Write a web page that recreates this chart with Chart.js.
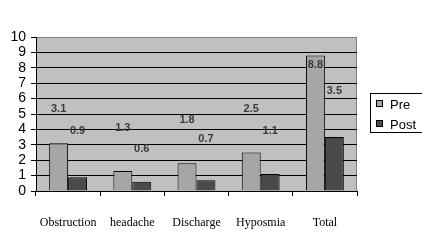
<!DOCTYPE html>
<html>
<head>
<meta charset="utf-8">
<script src="https://cdn.jsdelivr.net/npm/chart.js@4.4.1/dist/chart.umd.min.js"></script>
<style>
  html, body { margin: 0; padding: 0; background: #fff; }
  #wrap { width: 422px; height: 240px; }
</style>
</head>
<body>
<div id="wrap"><canvas id="chart" width="422" height="240"></canvas></div>
<script>
const categories = ['Obstruction', 'headache', 'Discharge', 'Hyposmia', 'Total'];
const preValues = [3.1, 1.3, 1.8, 2.5, 8.8];
const postValues = [0.9, 0.6, 0.7, 1.1, 3.5];
const yTicks = [0, 1, 2, 3, 4, 5, 6, 7, 8, 9, 10];

// where the value labels float (in axis units), as in the original
const preLabelAt = [5.3, 4.1, 4.6, 5.3, 8.2];
const postLabelAt = [3.9, 2.7, 3.4, 3.9, 6.5];

const plotBg = {
  id: 'plotBg',
  beforeDraw(chart) {
    const { ctx, chartArea: a } = chart;
    ctx.save();
    ctx.fillStyle = '#c0c0c0';
    ctx.fillRect(a.left, a.top, a.right - a.left, a.bottom - a.top);
    ctx.strokeStyle = '#808080';
    ctx.lineWidth = 1;
    ctx.beginPath();
    ctx.moveTo(a.left, a.top + 0.5);
    ctx.lineTo(a.right - 0.5, a.top + 0.5);
    ctx.lineTo(a.right - 0.5, a.bottom);
    ctx.stroke();
    ctx.restore();
  }
};

const valueLabels = {
  id: 'valueLabels',
  afterDatasetsDraw(chart) {
    const { ctx } = chart;
    const y = chart.scales.y;
    const levels = [preLabelAt, postLabelAt];
    ctx.save();
    ctx.font = 'bold 11px "Liberation Sans", Arial, sans-serif';
    ctx.fillStyle = '#3a3a3a';
    ctx.textAlign = 'center';
    ctx.textBaseline = 'middle';
    chart.data.datasets.forEach((ds, i) => {
      chart.getDatasetMeta(i).data.forEach((bar, j) => {
        ctx.fillText(ds.data[j].toFixed(1), bar.x, y.getPixelForValue(levels[i][j]));
      });
    });
    ctx.restore();
  }
};

const boxLegend = {
  id: 'boxLegend',
  afterDraw(chart) {
    const { ctx } = chart;
    ctx.save();
    ctx.fillStyle = '#fff';
    ctx.fillRect(370.5, 93.5, 60, 39);
    ctx.strokeStyle = '#000';
    ctx.lineWidth = 1;
    ctx.strokeRect(370.5, 93.5, 60, 39);
    ctx.font = '13px "Liberation Sans", Arial, sans-serif';
    ctx.textBaseline = 'middle';
    chart.data.datasets.forEach((ds, i) => {
      const cy = 104 + i * 20;
      ctx.fillStyle = ds.backgroundColor;
      ctx.fillRect(376.5, cy - 3.5, 6, 6);
      ctx.strokeStyle = '#000';
      ctx.strokeRect(376.5, cy - 3.5, 6, 6);
      ctx.fillStyle = '#000';
      ctx.fillText(ds.label, 390, cy + 1);
    });
    ctx.restore();
  }
};

new Chart(document.getElementById('chart'), {
  type: 'bar',
  data: {
    labels: categories,
    datasets: [
      {
        label: 'Pre',
        data: preValues,
        backgroundColor: '#a6a6a6',
        borderColor: '#000',
        borderWidth: 1,
        borderSkipped: 'bottom'
      },
      {
        label: 'Post',
        data: postValues,
        backgroundColor: '#4a4a4a',
        borderColor: '#000',
        borderWidth: 1,
        borderSkipped: 'bottom'
      }
    ]
  },
  options: {
    responsive: false,
    animation: false,
    layout: { padding: { top: 37, right: 65, left: 0, bottom: 0 } },
    datasets: { bar: { categoryPercentage: 0.59, barPercentage: 1.0 } },
    plugins: {
      legend: { display: false },
      tooltip: { enabled: false }
    },
    scales: {
      x: {
        grid: { drawOnChartArea: false, drawTicks: true, tickLength: 5, color: '#000' },
        border: { color: '#000' },
        ticks: {
          color: '#000',
          padding: 20,
          maxRotation: 0,
          autoSkip: false,
          font: { family: '"Liberation Serif", "Times New Roman", serif', size: 12 }
        },
        afterFit(s) { s.height = 49; }
      },
      y: {
        min: 0,
        max: 10,
        afterBuildTicks(s) { s.ticks = yTicks.map(v => ({ value: v })); },
        grid: {
          color: c => (c.tick && c.tick.value === 10 ? '#808080' : '#000'),
          tickLength: 5,
          tickColor: '#000'
        },
        border: { color: '#000' },
        ticks: {
          color: '#000',
          padding: 5,
          autoSkip: false,
          font: { family: '"Liberation Sans", Arial, sans-serif', size: 14 }
        },
        afterFit(s) { s.width = 36; }
      }
    }
  },
  plugins: [plotBg, valueLabels, boxLegend]
});
</script>
</body>
</html>
